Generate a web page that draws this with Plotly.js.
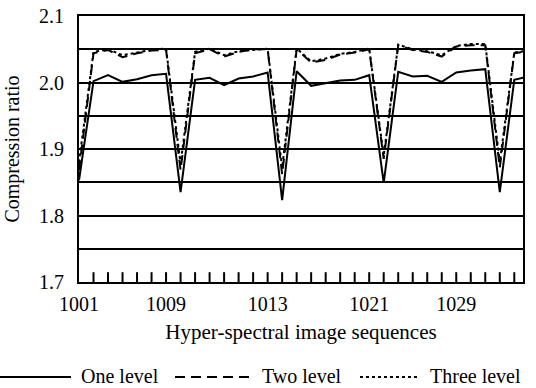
<!DOCTYPE html>
<html>
<head>
<meta charset="utf-8">
<script src="https://cdn.plot.ly/plotly-3.0.1.min.js"></script>
<style>html,body{margin:0;padding:0;background:#fff;}#chart{width:536px;height:388px;}</style>
</head>
<body>
<div id="chart"></div>
<script>
// sequence index (category positions)
const seqIndex = [0,1,2,3,4,5,6,7,8,9,10,11,12,13,14,15,16,17,18,19,20,21,22,23,24,25,26,27,28,29,30,31];
const oneLevel = [1.853, 2.002, 2.011, 2.001, 2.005, 2.011, 2.013, 1.835, 2.004, 2.007, 1.996, 2.006, 2.009, 2.015, 1.823, 2.017, 1.995, 1.999, 2.003, 2.004, 2.011, 1.849, 2.016, 2.009, 2.010, 2.001, 2.015, 2.018, 2.020, 1.835, 2.004, 2.009];
const twoLevel = [1.868, 2.044, 2.049, 2.038, 2.044, 2.048, 2.049, 1.868, 2.044, 2.050, 2.039, 2.046, 2.050, 2.050, 1.862, 2.050, 2.030, 2.034, 2.042, 2.045, 2.050, 1.885, 2.056, 2.049, 2.046, 2.039, 2.054, 2.056, 2.056, 1.872, 2.044, 2.047];
const threeLevel = [1.880, 2.046, 2.050, 2.041, 2.045, 2.049, 2.051, 1.878, 2.046, 2.051, 2.041, 2.047, 2.049, 2.051, 1.872, 2.051, 2.032, 2.036, 2.043, 2.046, 2.051, 1.890, 2.057, 2.050, 2.047, 2.041, 2.055, 2.058, 2.058, 1.880, 2.045, 2.048];
const seriesNames = ["One level", "Two level", "Three level"];
const xLabelVals = [0, 6, 13, 20, 26];
const xLabels = ["1001", "1009", "1013", "1021", "1029"];
const xTickMarks = [1,2,3,4,5,6,7,8,9,10,11,12,13,14,15,16,17,18,19,20,21,22,23,24,25,26,27,28,29,30];
const yRange = [1.7, 2.1];
const yTickVals = [1.7, 1.75, 1.8, 1.85, 1.9, 1.95, 2.0, 2.05, 2.1];
const yTickText = ["1.7", "", "1.8", "", "1.9", "", "2.0", "", "2.1"];

const FONT = "Liberation Serif";
const dashes = ["solid", "10px,6px", "3px,3px"];

const traces = [oneLevel, twoLevel, threeLevel].map((ys, i) => ({
  x: seqIndex, y: ys, type: "scatter", mode: "lines", name: seriesNames[i],
  line: {color: "#000", width: 2, dash: dashes[i]}, showlegend: false, hoverinfo: "skip"
}));
// inward category tick marks along the bottom axis (lower half clipped by the plot area)
traces.push({
  x: xTickMarks, y: xTickMarks.map(() => yRange[0]), type: "scatter", mode: "markers",
  cliponaxis: true, showlegend: false, hoverinfo: "skip",
  marker: {symbol: "line-ns", size: 14, color: "#000", line: {color: "#000", width: 2}}
});

// custom legend (long symbol lines like the original)
const L = 79, R = 523, T = 16, B = 282;
const px = v => (v - L) / (R - L);
const py = v => (B - v) / (B - T);
const legendItems = [
  {x0: 0, x1: 71, tx: 79},
  {x0: 175, x1: 252, tx: 260},
  {x0: 360, x1: 418, tx: 428}
];
const shapes = legendItems.map((it, i) => ({
  type: "line", xref: "paper", yref: "paper",
  x0: px(it.x0), x1: px(it.x1), y0: py(377), y1: py(377),
  line: {color: "#000", width: 2, dash: dashes[i]}
}));
const annotations = legendItems.map((it, i) => ({
  xref: "paper", yref: "paper", x: px(it.tx), y: py(376),
  xanchor: "left", yanchor: "middle", showarrow: false,
  text: seriesNames[i], font: {family: FONT, size: 20, color: "#000"}
}));

const layout = {
  width: 536, height: 388,
  margin: {l: L, r: 536 - R, t: T, b: 388 - B, pad: 0},
  paper_bgcolor: "#fff", plot_bgcolor: "#fff",
  font: {family: FONT, size: 20, color: "#000"},
  xaxis: {
    range: [0, 30.6], tickmode: "array", tickvals: xLabelVals, ticktext: xLabels,
    ticks: "outside", ticklen: 3, tickcolor: "rgba(0,0,0,0)", showgrid: false, zeroline: false,
    showline: true, linecolor: "#000", linewidth: 2, mirror: true,
    tickfont: {family: FONT, size: 20, color: "#000"},
    title: {text: "Hyper-spectral image sequences", font: {family: FONT, size: 21, color: "#000"}, standoff: 10}
  },
  yaxis: {
    range: yRange, tickmode: "array", tickvals: yTickVals, ticktext: yTickText,
    ticks: "outside", ticklen: 9, tickcolor: "rgba(0,0,0,0)",
    showgrid: true, gridcolor: "#000", gridwidth: 2, zeroline: false,
    showline: true, linecolor: "#000", linewidth: 2, mirror: true,
    tickfont: {family: FONT, size: 20, color: "#000"},
    title: {text: "Compression ratio", font: {family: FONT, size: 20, color: "#000"}, standoff: 14}
  },
  shapes: shapes,
  annotations: annotations,
  showlegend: false
};

Plotly.newPlot("chart", traces, layout, {displayModeBar: false, staticPlot: true});
</script>
</body>
</html>
